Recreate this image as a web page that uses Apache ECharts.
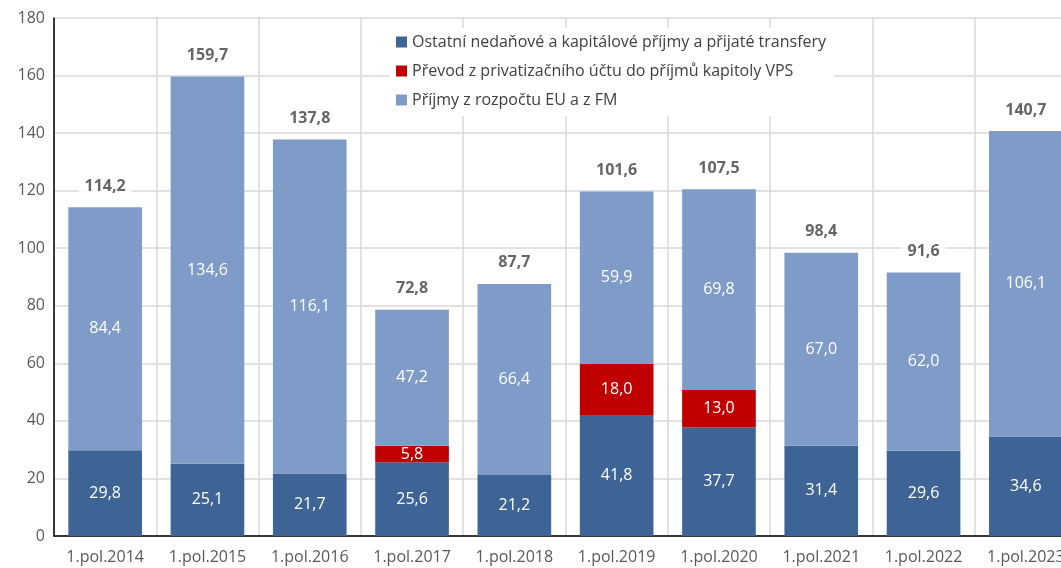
<!DOCTYPE html>
<html>
<head>
<meta charset="utf-8">
<script src="https://cdn.jsdelivr.net/npm/echarts@6/dist/echarts.min.js"></script>
<style>
  html, body { margin: 0; padding: 0; background: #fff; }
  #chart { width: 1061px; height: 568px; }
</style>
</head>
<body>
<div id="chart"></div>
<script>
var categories = ['1.pol.2014', '1.pol.2015', '1.pol.2016', '1.pol.2017', '1.pol.2018',
                  '1.pol.2019', '1.pol.2020', '1.pol.2021', '1.pol.2022', '1.pol.2023'];
var ostatni = [29.8, 25.1, 21.7, 25.6, 21.2, 41.8, 37.7, 31.4, 29.6, 34.6];
var prevod = [null, null, null, 5.8, null, 18.0, 13.0, null, null, null];
var eu = [84.4, 134.6, 116.1, 47.2, 66.4, 59.9, 69.8, 67.0, 62.0, 106.1];
var totals = [114.2, 159.7, 137.8, 72.8, 87.7, 101.6, 107.5, 98.4, 91.6, 140.7];

var seriesNames = [
    'Ostatní nedaňové a kapitálové příjmy a přijaté transfery',
    'Převod z privatizačního účtu do příjmů kapitoly VPS',
    'Příjmy z rozpočtu EU a z FM'
];
var colors = ['#3e6496', '#c00000', '#7f9cc8'];
var font = 'Open Sans';

function fmt(v) {
    return v.toFixed(1).replace('.', ',');
}

// vrchol sloupce = soucet vsech casti
function stackTops() {
    var tops = [];
    for (var i = 0; i < categories.length; i++) {
        tops.push((ostatni[i] || 0) + (prevod[i] || 0) + (eu[i] || 0));
    }
    return tops;
}

function barSeries(name, data, color) {
    return {
        name: name,
        type: 'bar',
        stack: 'total',
        barCategoryGap: '28%',
        data: data,
        itemStyle: { color: color },
        label: {
            show: true,
            position: 'inside',
            color: '#fff',
            fontFamily: font,
            fontSize: 16,
            formatter: function (p) { return p.value == null ? '' : fmt(p.value); }
        }
    };
}

var chart = echarts.init(document.getElementById('chart'));
var option = {
    animation: false,
    backgroundColor: '#fff',
    grid: { left: 54, top: 18, bottom: 32, width: 1023, outerBoundsMode: 'none', containLabel: false },
    legend: {
        orient: 'vertical',
        left: 390,
        top: 28,
        padding: [6, 8, 8, 6],
        backgroundColor: '#fff',
        itemWidth: 11,
        itemHeight: 11,
        itemGap: 13,
        icon: 'rect',
        data: seriesNames,
        textStyle: { color: '#404040', fontFamily: font, fontSize: 16 }
    },
    xAxis: {
        type: 'category',
        data: categories,
        axisLine: { lineStyle: { color: '#000', width: 1.5 } },
        axisTick: { show: false },
        axisLabel: { color: '#595959', fontFamily: font, fontSize: 16, margin: 13 },
        splitLine: { show: true, lineStyle: { color: '#d9d9d9', width: 1.5 } }
    },
    yAxis: {
        type: 'value',
        min: 0,
        max: 180,
        interval: 20,
        axisLine: { show: true, lineStyle: { color: '#000', width: 1.5 } },
        axisTick: { show: false },
        axisLabel: { color: '#595959', fontFamily: font, fontSize: 16, margin: 9 },
        splitLine: { lineStyle: { color: '#d9d9d9', width: 1.5 } }
    },
    series: [
        barSeries(seriesNames[0], ostatni, colors[0]),
        barSeries(seriesNames[1], prevod, colors[1]),
        barSeries(seriesNames[2], eu, colors[2]),
        {
            name: 'celkem',
            type: 'scatter',
            symbolSize: 0,
            data: stackTops(),
            silent: true,
            z: 5,
            label: {
                show: true,
                position: 'top',
                distance: 12,
                color: '#404040',
                fontWeight: 'bold',
                fontFamily: font,
                fontSize: 16,
                backgroundColor: '#fff',
                padding: [1, 6],
                formatter: function (p) { return fmt(totals[p.dataIndex]); }
            }
        }
    ]
};
chart.setOption(option);
window.onresize = chart.resize;
</script>
</body>
</html>
